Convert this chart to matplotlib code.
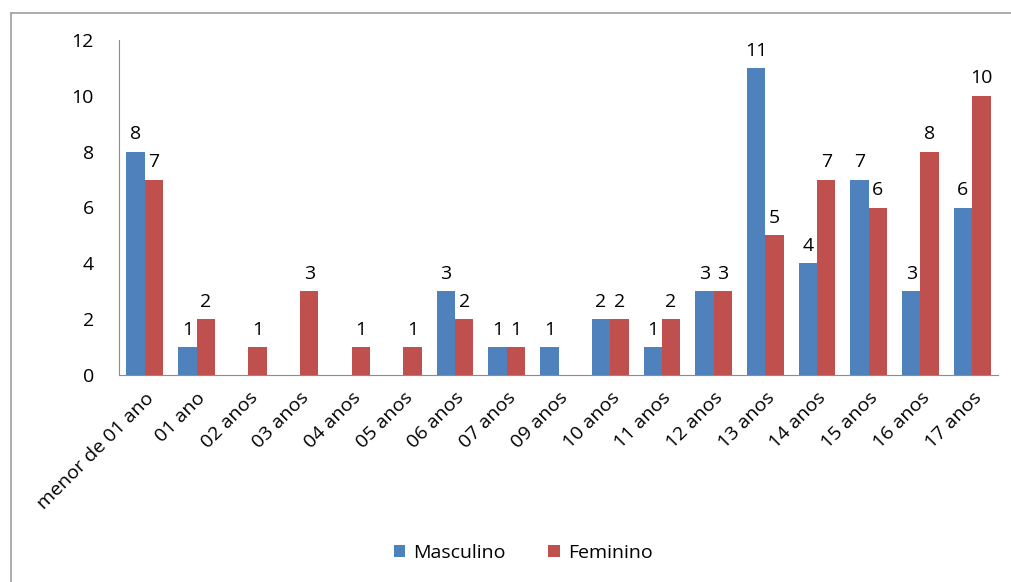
import numpy as np
import matplotlib
matplotlib.use("Agg")
import matplotlib.pyplot as plt
from matplotlib.lines import Line2D

categories = ["menor de 01 ano", "01 ano", "02 anos", "03 anos", "04 anos",
              "05 anos", "06 anos", "07 anos", "09 anos", "10 anos", "11 anos",
              "12 anos", "13 anos", "14 anos", "15 anos", "16 anos", "17 anos"]
masculino = [8, 1, 0, 0, 0, 0, 3, 1, 1, 2, 1, 3, 11, 4, 7, 3, 6]
feminino = [7, 2, 1, 3, 1, 1, 2, 1, 0, 2, 2, 3, 5, 7, 6, 8, 10]

plt.rcParams["font.family"] = ["Open Sans", "DejaVu Sans"]
fs = 14

fig = plt.figure(figsize=(10.11, 5.82), dpi=100)
ax = fig.add_axes([119 / 1011, 1 - 375 / 582, 879 / 1011, 335 / 582])

# outer chart frame (left and top edges only visible)
fx, fy = 11 / 1011, 1 - 13 / 582
fig.lines.append(Line2D([fx, fx], [0, fy], transform=fig.transFigure,
                        color="#a6a6a6", lw=1.3))
fig.lines.append(Line2D([fx, 1.01], [fy, fy], transform=fig.transFigure,
                        color="#a6a6a6", lw=1.3))

x = np.arange(len(categories))
w = 0.355
b1 = ax.bar(x - w / 2, masculino, w, color="#4F81BD", label="Masculino")
b2 = ax.bar(x + w / 2, feminino, w, color="#C0504D", label="Feminino")

for bars, vals in ((b1, masculino), (b2, feminino)):
    for r, v in zip(bars, vals):
        if v == 0:
            continue
        ax.text(r.get_x() + r.get_width() / 2, v + 0.3, str(v),
                ha="center", va="bottom", fontsize=fs)

ax.set_xlim(-0.5, len(categories) - 0.5)
ax.set_ylim(0, 12)
ax.set_yticks(range(0, 13, 2))
ax.set_xticks(x)
ax.set_xticklabels(categories, rotation=45, ha="right", rotation_mode="anchor")
ax.tick_params(axis="both", length=0, labelsize=fs)
ax.tick_params(axis="y", pad=18)
ax.tick_params(axis="x", pad=10)
for s in ("top", "right"):
    ax.spines[s].set_visible(False)
for s in ("left", "bottom"):
    ax.spines[s].set_color("#8c8c8c")

fig.legend(loc="center", bbox_to_anchor=(523 / 1011, 1 - 553 / 582), ncol=2,
           frameon=False, fontsize=fs, handlelength=0.6, handleheight=0.6,
           columnspacing=2.2, handletextpad=0.4)

fig.savefig("out.png", dpi=100)
